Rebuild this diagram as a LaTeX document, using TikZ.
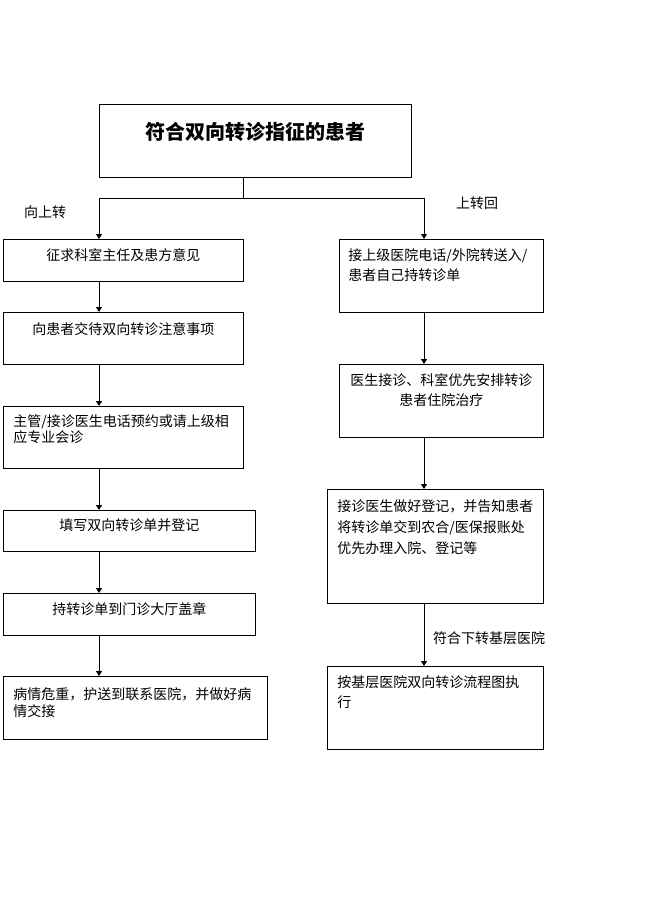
\documentclass[tikz,border=0pt]{standalone}
\usepackage{fontspec}
\setmainfont{Noto Sans CJK SC}
\usetikzlibrary{arrows.meta}
% width, height, first baseline, baselineskip, alignment, text
\newcommand\bxt[6]{\parbox[c][#2][t]{#1}{#5\baselineskip=#4\relax\rule{0pt}{#3}#6}}
\newcommand\lft{\raggedright\leftskip=10pt\relax}
\begin{document}
\begin{tikzpicture}[x=1pt,y=-1pt,
  font=\fontsize{14}{20}\selectfont,
  box/.style={draw, line width=0.9pt, inner sep=0pt, anchor=north west},
  lbl/.style={inner sep=0pt},
  conn/.style={line width=0.9pt},
  arr/.style={line width=0.9pt, -{Triangle[length=5pt,width=6pt]}}]
\useasboundingbox (0,0) rectangle (655,916);
\node[box] (T) at (99,104) {\bxt{312pt}{73pt}{35pt}{24pt}{\centering\bfseries\fontsize{20}{24}\selectfont}{符合双向转诊指征的患者}};
% left column
\node[box] (L1) at (3,239) {\bxt{240pt}{42pt}{21pt}{20pt}{\centering}{征求科室主任及患方意见}};
\node[box] (L2) at (3,312) {\bxt{240pt}{52pt}{22pt}{20pt}{\centering}{向患者交待双向转诊注意事项}};
\node[box] (L3) at (3,406) {\bxt{240pt}{62pt}{20pt}{16pt}{\lft}{主管/接诊医生电话预约或请上级相\\应专业会诊}};
\node[box] (L4) at (3,510) {\bxt{252pt}{41pt}{20pt}{20pt}{\centering}{填写双向转诊单并登记}};
\node[box] (L5) at (3,593) {\bxt{252pt}{42pt}{21pt}{20pt}{\centering}{持转诊单到门诊大厅盖章}};
\node[box] (L6) at (3,676) {\bxt{264pt}{63pt}{23pt}{17pt}{\lft}{病情危重，护送到联系医院，并做好病\\情交接}};
% right column
\node[box] (R1) at (339,239) {\bxt{204pt}{73pt}{21pt}{20pt}{\raggedright\leftskip=9pt\relax}{接上级医院电话/外院转送入/\\患者自己持转诊单}};
\node[box] (R2) at (339,364) {\bxt{204pt}{73pt}{21pt}{20pt}{\centering}{医生接诊、科室优先安排转诊\\患者住院治疗}};
\node[box] (R3) at (327,489) {\bxt{216pt}{114pt}{22pt}{21pt}{\lft}{接诊医生做好登记，并告知患者\\将转诊单交到农合/医保报账处\\优先办理入院、登记等}};
\node[box] (R4) at (327,666) {\bxt{216pt}{83pt}{21pt}{20pt}{\lft}{按基层医院双向转诊流程图执\\行}};
% labels
\node[lbl] (la) at (45,212) {向上转};
\node[lbl] (lb) at (477,203) {上转回};
\node[lbl] (lc) at (489,638) {符合下转基层医院};
% connectors
\coordinate (j) at (243,198);
\coordinate (cl) at (99,0);
\coordinate (cr) at (424,0);
\draw[conn] (T.south -| j) -- (j);
\draw[arr] (j) -| (L1.north -| cl);
\draw[arr] (j) -| (R1.north -| cr);
\draw[arr] (L1.south -| cl) -- (L2.north -| cl);
\draw[arr] (L2.south -| cl) -- (L3.north -| cl);
\draw[arr] (L3.south -| cl) -- (L4.north -| cl);
\draw[arr] (L4.south -| cl) -- (L5.north -| cl);
\draw[arr] (L5.south -| cl) -- (L6.north -| cl);
\draw[arr] (R1.south -| cr) -- (R2.north -| cr);
\draw[arr] (R2.south -| cr) -- (R3.north -| cr);
\draw[arr] (R3.south -| cr) -- (R4.north -| cr);
\end{tikzpicture}
\end{document}
